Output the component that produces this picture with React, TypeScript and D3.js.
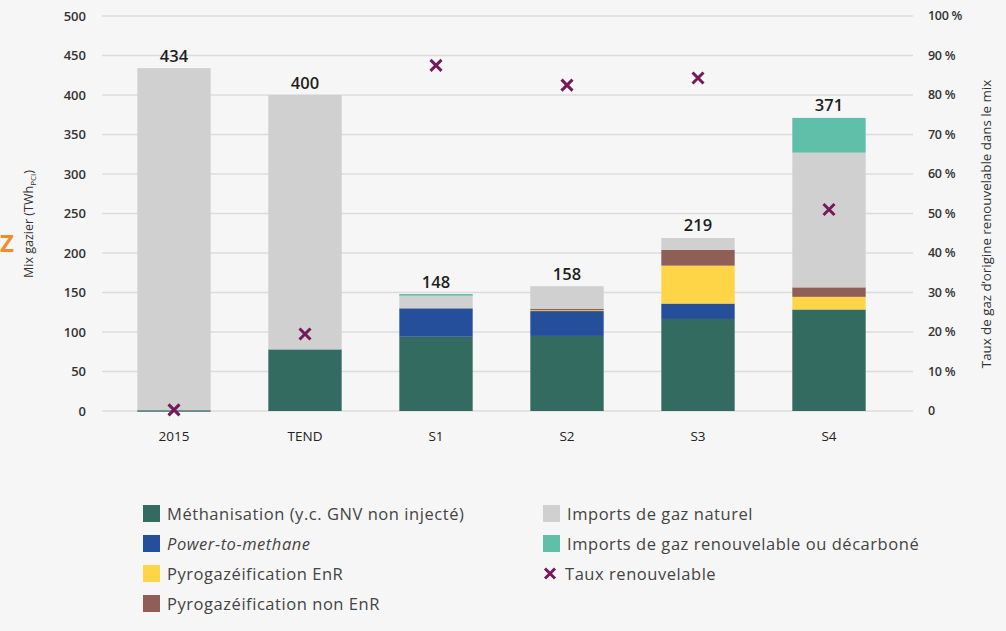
import React from "react";
import * as d3 from "d3";

// Scenario categories
const categories = ["2015", "TEND", "S1", "S2", "S3", "S4"];

// Series values (TWh PCI)
const methanisation = [1, 78, 94, 95, 116.5, 128.5];
const powerToMethane = [0, 0, 36, 31.5, 19.5, 0];
const pyroEnR = [0, 0, 0, 2, 48, 16];
const pyroNonEnR = [0, 0, 0, 1, 20, 12];
const importsNaturel = [433, 322, 17.5, 28.5, 15, 170.5];
const importsRenouv = [0, 0, 0.5, 0, 0, 44];
const totals = [434, 400, 148, 158, 219, 371];
// Renewable share (%)
const tauxRenouvelable = [0.3, 19.5, 87.5, 82.5, 84.3, 51];

const leftTicks = [0, 50, 100, 150, 200, 250, 300, 350, 400, 450, 500];
const rightTicks = [0, 10, 20, 30, 40, 50, 60, 70, 80, 90, 100];

interface Series {
  key: string;
  label: string;
  values: number[];
  color: string;
  italic?: boolean;
}

const series: Series[] = [
  { key: "meth", label: "Méthanisation (y.c. GNV non injecté)", values: methanisation, color: "#336b61" },
  { key: "ptm", label: "Power-to-methane", values: powerToMethane, color: "#264f9b", italic: true },
  { key: "pyro", label: "Pyrogazéification EnR", values: pyroEnR, color: "#ffd548" },
  { key: "pyroNon", label: "Pyrogazéification non EnR", values: pyroNonEnR, color: "#8f5f57" },
  { key: "imp", label: "Imports de gaz naturel", values: importsNaturel, color: "#d0d0d0" },
  { key: "impR", label: "Imports de gaz renouvelable ou décarboné", values: importsRenouv, color: "#5fbfa9" },
];

const FONT = "'Open Sans', Lato, sans-serif";
const MARKER = "#74195a";

const App: React.FC = () => {
  const width = 1006;
  const height = 631;
  const plot = { left: 102, right: 913, top: 16, bottom: 411 };

  const x = d3
    .scaleBand<string>()
    .domain(categories)
    .range([108.5, 894.5])
    .paddingInner(0.44)
    .paddingOuter(0.22);

  const y = d3.scaleLinear().domain([0, 500]).range([plot.bottom, plot.top]);
  const yR = d3.scaleLinear().domain([0, 100]).range([plot.bottom, plot.top]);

  const rows = categories.map((c, i) => {
    const r: Record<string, number | string> = { cat: c };
    series.forEach((s) => (r[s.key] = s.values[i]));
    return r;
  });
  const stacked = d3
    .stack<Record<string, number | string>>()
    .keys(series.map((s) => s.key))(rows as any);

  const cross = (cx: number, cy: number, s: number) =>
    `M${cx - s},${cy - s}L${cx + s},${cy + s}M${cx - s},${cy + s}L${cx + s},${cy - s}`;

  const legendLeft = series.filter((s) => ["meth", "ptm", "pyro", "pyroNon"].includes(s.key));
  const legendRight = series.filter((s) => ["imp", "impR"].includes(s.key));

  return (
    <svg
      width={width}
      height={height}
      style={{ position: "absolute", left: 0, top: 0 }}
      fontFamily={FONT}
    >
      <rect width={width} height={height} fill="#f6f6f6" />

      {/* grid */}
      {leftTicks.map((t) => (
        <line key={t} x1={plot.left} x2={plot.right} y1={y(t)} y2={y(t)} stroke="#dcdcdc" strokeWidth={1.3} />
      ))}

      {/* left ticks */}
      {leftTicks.map((t) => (
        <text key={t} x={86} y={y(t)} dy="0.35em" textAnchor="end" fontSize={13} fontWeight={600} fill="#333">
          {t}
        </text>
      ))}
      {/* right ticks */}
      {rightTicks.map((t) => (
        <text key={t} x={928} y={yR(t)} dy="0.35em" textAnchor="start" fontSize={12.5} fontWeight={600} fill="#333" letterSpacing={-0.3}>
          {t === 0 ? "0" : `${t} %`}
        </text>
      ))}

      <text transform="translate(33,224) rotate(-90)" textAnchor="middle" fontSize={12.5} fill="#333">
        Mix gazier (TWh<tspan fontSize={8} dy={3}>PCI</tspan><tspan dy={-3}>)</tspan>
      </text>
      <text transform="translate(991,224) rotate(-90)" textAnchor="middle" fontSize={13.3} fill="#333">
        Taux de gaz d’origine renouvelable dans le mix
      </text>
      <text x={0} y={252} fontSize={24} fontWeight={700} fill="#f28c2a">Z</text>

      {/* bars */}
      {stacked.map((layer, li) => (
        <g key={layer.key}>
          {layer.map((d, i) => {
            const h = y(d[0]) - y(d[1]);
            if (h <= 0) return null;
            return (
              <rect
                key={i}
                x={x(categories[i])}
                y={y(d[1])}
                width={x.bandwidth()}
                height={Math.max(h, 1.5)}
                fill={series[li].color}
              />
            );
          })}
        </g>
      ))}

      {/* totals */}
      {totals.map((t, i) => (
        <text
          key={i}
          x={(x(categories[i]) ?? 0) + x.bandwidth() / 2}
          y={y(t) - 6.5}
          textAnchor="middle"
          fontSize={16.5}
          fontWeight={600}
          fill="#1e1e1e"
        >
          {t}
        </text>
      ))}

      {/* renewable share markers */}
      {tauxRenouvelable.map((v, i) => (
        <path
          key={i}
          d={cross((x(categories[i]) ?? 0) + x.bandwidth() / 2, yR(v), 5.5)}
          stroke={MARKER}
          strokeWidth={3}
          fill="none"
        />
      ))}

      {/* x labels */}
      {categories.map((c) => (
        <text
          key={c}
          x={(x(c) ?? 0) + x.bandwidth() / 2}
          y={436}
          dy="0.35em"
          textAnchor="middle"
          fontSize={13.5}
          fontWeight={500}
          fill="#222"
        >
          {c}
        </text>
      ))}

      {/* legend */}
      {legendLeft.map((s, i) => (
        <g key={s.key} transform={`translate(143,${505 + i * 30})`}>
          <rect width={17} height={17} fill={s.color} />
          <text x={24} y={9} dy="0.35em" fontSize={16.5} letterSpacing={0.55} fill="#444" fontStyle={s.italic ? "italic" : "normal"}>
            {s.label}
          </text>
        </g>
      ))}
      {legendRight.map((s, i) => (
        <g key={s.key} transform={`translate(543,${505 + i * 30})`}>
          <rect width={17} height={17} fill={s.color} />
          <text x={24} y={9} dy="0.35em" fontSize={16.5} letterSpacing={0.55} fill="#444">
            {s.label}
          </text>
        </g>
      ))}
      <g transform={`translate(543,${505 + 2 * 30})`}>
        <path d={cross(7, 8.5, 5)} stroke={MARKER} strokeWidth={3} fill="none" />
        <text x={22} y={9} dy="0.35em" fontSize={16.5} letterSpacing={0.55} fill="#444">
          Taux renouvelable
        </text>
      </g>
    </svg>
  );
};

export default App;
